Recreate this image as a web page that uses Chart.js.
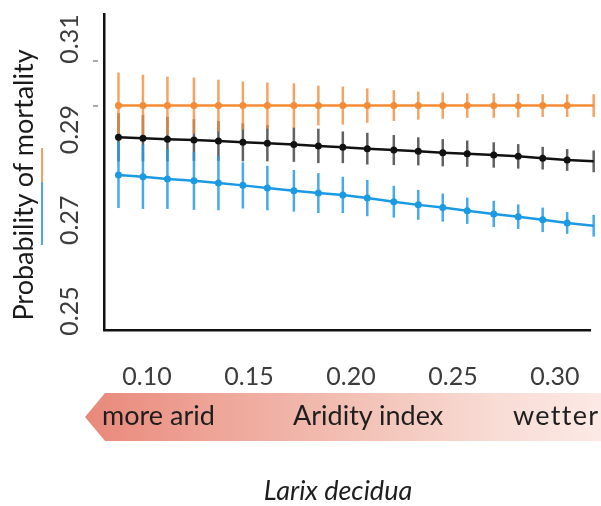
<!DOCTYPE html>
<html>
<head>
<meta charset="utf-8">
<script src="https://cdn.jsdelivr.net/npm/chart.js@4.4.0/dist/chart.umd.min.js"></script>
<style>
  html, body { margin: 0; padding: 0; background: #fff; }
  #page { position: relative; width: 601px; height: 506px; overflow: hidden; font-family: Lato, "Noto Sans", sans-serif; }
  #wrap { position: absolute; left: 0; top: 0; width: 601px; height: 506px; }
  .ylab { position: absolute; left: 22px; top: 185px; transform: translate(-50%, -50%) rotate(-90deg);
          white-space: nowrap; font-size: 27px; line-height: 27px; color: #1a1a1a; }
  .stripe { position: absolute; left: 41px; width: 2px; }
  .dash { position: absolute; left: 93px; width: 5px; height: 2px; background: #aaa; }
  #arrow { position: absolute; left: 85px; top: 393px; width: 516px; height: 48px;
           clip-path: polygon(0 50%, 20px 0, 100% 0, 100% 100%, 20px 100%);
           background: linear-gradient(to right, #e8887a 0%, #eea598 25%, #f3c3b8 55%, #f8dcd5 80%, #fce9e5 100%); }
  .atext { position: absolute; top: 401px; font-size: 27px; line-height: 27px; color: #1e1e1e; white-space: nowrap; }
  #caption { position: absolute; left: 338px; top: 476px; transform: translateX(-50%); font-style: italic;
             font-size: 27px; line-height: 27px; color: #1e1e1e; white-space: nowrap; }
</style>
</head>
<body>
<div id="page">
  <div id="wrap"><canvas id="chart"></canvas></div>
  <div class="ylab">Probability of mortality</div>
  <div class="stripe" style="top:148px;height:34px;background:#f3a05c"></div>
  <div class="stripe" style="top:182px;height:63px;background:#4aa8e6"></div>
  <div class="dash" style="top:60px"></div>
  <div class="dash" style="top:105px"></div>
  <div id="arrow"></div>
  <div class="atext" style="left:102px">more arid</div>
  <div class="atext" style="left:293px">Aridity index</div>
  <div class="atext" style="left:513px;letter-spacing:1.3px">wetter</div>
  <div id="caption">Larix decidua</div>
</div>
<script>
// Aridity index values (x) and predicted mortality for three groups
const aridity = [0.086, 0.098, 0.110, 0.123, 0.135, 0.147, 0.159, 0.172, 0.184, 0.196,
                 0.208, 0.221, 0.233, 0.245, 0.257, 0.270, 0.282, 0.294, 0.306, 0.319];

const orangeVals = [0.2953, 0.2953, 0.2953, 0.2953, 0.2953, 0.2953, 0.2953, 0.2953, 0.2953, 0.2953,
                    0.2953, 0.2953, 0.2953, 0.2953, 0.2953, 0.2953, 0.2953, 0.2953, 0.2953, 0.2953];
const orangeErr  = [0.0073, 0.0068, 0.0064, 0.0062, 0.0057, 0.0053, 0.0051, 0.0049, 0.0044, 0.0042,
                    0.0038, 0.0034, 0.0031, 0.0029, 0.0027, 0.0027, 0.0026, 0.0025, 0.0025, 0.0025];

const blackVals  = [0.2883, 0.2881, 0.2879, 0.2877, 0.2875, 0.2872, 0.2870, 0.2867, 0.2864, 0.2861,
                    0.2858, 0.2855, 0.2852, 0.2849, 0.2847, 0.2844, 0.2841, 0.2837, 0.2833, 0.2830];
const blackErr   = [0.0053, 0.0051, 0.0049, 0.0046, 0.0044, 0.0042, 0.0040, 0.0038, 0.0038, 0.0035,
                    0.0035, 0.0033, 0.0031, 0.0030, 0.0029, 0.0028, 0.0027, 0.0025, 0.0024, 0.0024];

const blueVals   = [0.2800, 0.2796, 0.2791, 0.2787, 0.2782, 0.2777, 0.2771, 0.2765, 0.2760, 0.2756,
                    0.2749, 0.2741, 0.2734, 0.2728, 0.2721, 0.2714, 0.2708, 0.2701, 0.2694, 0.2688];
const blueErr    = [0.0073, 0.0071, 0.0066, 0.0064, 0.0060, 0.0051, 0.0049, 0.0046, 0.0044, 0.0040,
                    0.0040, 0.0035, 0.0033, 0.0031, 0.0029, 0.0029, 0.0027, 0.0027, 0.0024, 0.0024];

const xTicks = [0.10, 0.15, 0.20, 0.25, 0.30];
const yTicks = [0.25, 0.27, 0.29, 0.31];

const ORANGE = '#f58b35';
const BLUE   = '#1b9ae4';
const BLACK  = '#111111';

function toPoints(vals) { return aridity.map((x, i) => ({ x, y: vals[i] })); }

// vertical error bars, drawn from each dataset's errors through the y scale
// (black bars go first so the coloured ones sit over them, like the original)
const errorBars = {
  id: 'errorBars',
  beforeDatasetsDraw(chart) {
    const { ctx, scales: { y } } = chart;
    const order = chart.data.datasets
      .map((ds, di) => ({ ds, di }))
      .sort((a, b) => a.ds.barOrder - b.ds.barOrder);
    ctx.save();
    order.forEach(({ ds, di }) => {
      const meta = chart.getDatasetMeta(di);
      ctx.strokeStyle = ds.errColor;
      ctx.lineWidth = 2.5;
      meta.data.forEach((pt, i) => {
        const v = ds.data[i].y, e = ds.errors[i];
        ctx.beginPath();
        ctx.moveTo(pt.x, y.getPixelForValue(v + e));
        ctx.lineTo(pt.x, y.getPixelForValue(v - e));
        ctx.stroke();
      });
    });
    ctx.restore();
  }
};

// rotated y tick labels (reading bottom to top)
const yTickLabels = {
  id: 'yTickLabels',
  afterDraw(chart) {
    const { ctx, scales: { y } } = chart;
    ctx.save();
    ctx.font = '25px Lato, "Noto Sans", sans-serif';
    ctx.fillStyle = '#3c3c3c';
    ctx.textAlign = 'center';
    ctx.textBaseline = 'middle';
    y.ticks.forEach(t => {
      ctx.save();
      ctx.translate(70, y.getPixelForValue(t.value));
      ctx.rotate(-Math.PI / 2);
      ctx.fillText(t.value.toFixed(2), 0, 0);
      ctx.restore();
    });
    ctx.restore();
  }
};

new Chart(document.getElementById('chart'), {
  type: 'line',
  data: {
    datasets: [
      { data: toPoints(blueVals),   errors: blueErr,   errColor: 'rgba(35,155,230,0.85)', barOrder: 2,
        borderColor: BLUE, backgroundColor: BLUE },
      { data: toPoints(orangeVals), errors: orangeErr, errColor: 'rgba(242,140,60,0.8)', barOrder: 1,
        borderColor: ORANGE, backgroundColor: ORANGE },
      { data: toPoints(blackVals),  errors: blackErr,  errColor: 'rgba(30,30,30,0.7)', barOrder: 0,
        borderColor: BLACK, backgroundColor: BLACK },
    ]
  },
  options: {
    responsive: true,
    maintainAspectRatio: false,
    animation: false,
    layout: { padding: { left: 0, top: 14, right: 11, bottom: 0 } },
    elements: {
      line: { borderWidth: 2.5, tension: 0 },
      point: { radius: 3.5, borderWidth: 0, hoverRadius: 3.5 }
    },
    datasets: { line: { clip: false } },
    plugins: { legend: { display: false }, tooltip: { enabled: false } },
    scales: {
      x: {
        type: 'linear',
        min: 0.0789, max: 0.3172,
        afterFit: s => { s.height = 176; s.paddingLeft = 0; s.paddingRight = 0; },
        afterBuildTicks: s => { s.ticks = xTicks.map(v => ({ value: v })); },
        grid: { display: false, drawTicks: false },
        border: { display: true, color: BLACK, width: 2.5 },
        ticks: {
          padding: 32,
          color: '#3c3c3c',
          font: { family: 'Lato, "Noto Sans", sans-serif', size: 25 },
          callback: v => v.toFixed(2)
        }
      },
      y: {
        type: 'linear',
        min: 0.2458, max: 0.3155,
        afterFit: s => { s.width = 104; s.paddingTop = 0; s.paddingBottom = 0; },
        afterBuildTicks: s => { s.ticks = yTicks.map(v => ({ value: v })); },
        grid: { display: false, drawTicks: false },
        border: { display: true, color: BLACK, width: 2.5 },
        ticks: { display: false }
      }
    }
  },
  plugins: [errorBars, yTickLabels]
});
</script>
</body>
</html>
